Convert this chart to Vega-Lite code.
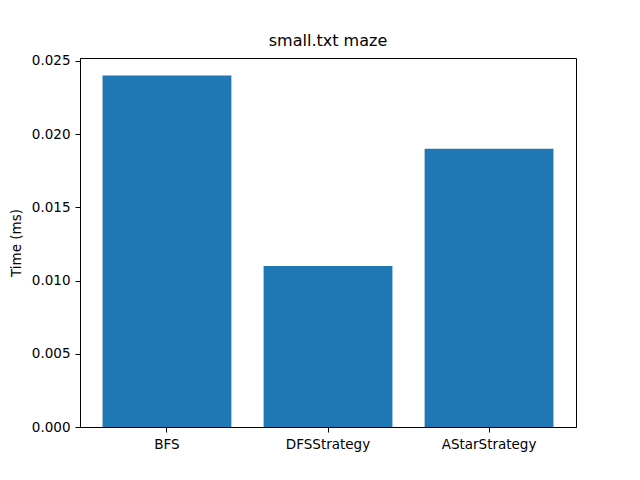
{
  "$schema": "https://vega.github.io/schema/vega-lite/v6.json",
  "width": 496,
  "height": 369,
  "autosize": {"type": "none"},
  "padding": {"left": 80, "top": 58, "right": 64, "bottom": 53},
  "background": "white",
  "title": {"text": "small.txt maze", "fontSize": 16, "fontWeight": "normal", "font": "DejaVu Sans", "color": "black", "offset": 5},
  "data": {
    "values": [
      {"strategy": "BFS", "time": 0.024},
      {"strategy": "DFSStrategy", "time": 0.011},
      {"strategy": "AStarStrategy", "time": 0.019}
    ]
  },
  "mark": {"type": "bar", "color": "#1f77b4"},
  "encoding": {
    "x": {
      "field": "strategy",
      "type": "nominal",
      "sort": null,
      "title": null,
      "scale": {"paddingInner": 0.2, "paddingOuter": 0.14},
      "axis": {"labelAngle": 0}
    },
    "y": {
      "field": "time",
      "type": "quantitative",
      "title": "Time (ms)",
      "scale": {"domain": [0, 0.0252], "nice": false, "zero": true},
      "axis": {"values": [0, 0.005, 0.01, 0.015, 0.02, 0.025], "format": ".3f", "titlePadding": 8}
    }
  },
  "config": {
    "font": "DejaVu Sans",
    "view": {"stroke": "black", "strokeWidth": 1},
    "axis": {
      "grid": false,
      "domainColor": "black",
      "tickColor": "black",
      "tickSize": 5,
      "labelPadding": 5,
      "labelFontSize": 13.5,
      "labelColor": "black",
      "titleFontSize": 13.5,
      "titleFontWeight": "normal",
      "titleColor": "black",
      "labelFont": "DejaVu Sans",
      "titleFont": "DejaVu Sans"
    }
  }
}
